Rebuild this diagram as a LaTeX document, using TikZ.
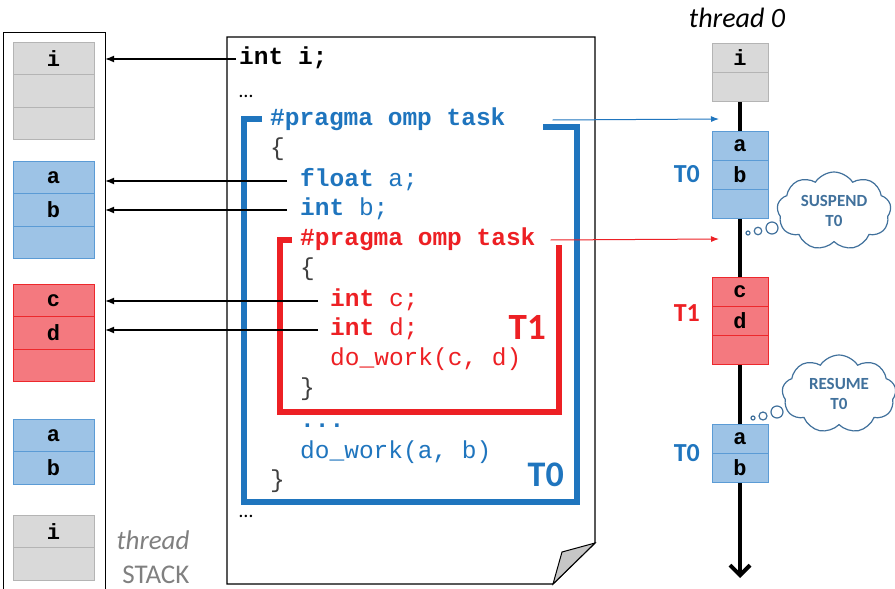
\documentclass[tikz,border=0pt]{standalone}
\usepackage{fontspec}
\setmainfont{Carlito}
\setmonofont{Liberation Mono}
\usetikzlibrary{positioning,arrows.meta,shapes.symbols,backgrounds}
\definecolor{tblue}{RGB}{31,117,190}
\definecolor{tred}{RGB}{237,32,36}
\definecolor{bfill}{RGB}{157,195,230}
\definecolor{bline}{RGB}{91,155,213}
\definecolor{rfill}{RGB}{244,121,127}
\definecolor{rline}{RGB}{237,40,44}
\definecolor{gfill}{RGB}{217,217,217}
\definecolor{gline}{RGB}{180,180,180}
\definecolor{cloudc}{RGB}{65,113,156}
\definecolor{bracec}{RGB}{64,64,64}

\begin{document}
\begin{tikzpicture}[x=1pt, y=-1pt,
    node distance=0pt,
    code/.style={anchor=west, inner sep=0pt, text height=15pt, text depth=5pt, font=\fontsize{24.5}{30}\selectfont\ttfamily},
    cell/.style={draw, line width=1pt, outer sep=0pt, inner sep=0pt, minimum width=81pt, minimum height=32.5pt, font=\fontsize{22}{22}\selectfont\ttfamily\bfseries},
    gcell/.style={cell, fill=gfill, draw=gline},
    bcell/.style={cell, fill=bfill, draw=bline},
    rcell/.style={cell, fill=rfill, draw=rline},
    tcell/.style={minimum width=56pt, minimum height=29pt},
    tlab/.style={inner sep=0pt, font=\fontsize{26}{26}\selectfont\bfseries},
    ptr/.style={draw, line width=1.2pt, -{Latex[length=9pt,width=7pt]}},
    thought/.style={cloud, cloud puffs=9, cloud puff arc=115, cloud ignores aspect, minimum width=114pt, minimum height=78pt, inner sep=0pt, draw=cloudc, line width=1.2pt, fill=white, text=cloudc, align=center, font=\fontsize{17}{20}\selectfont\bfseries},
    bub/.style={circle, draw=cloudc, line width=1.2pt, fill=white, inner sep=0pt}
]
\useasboundingbox (0,0) rectangle (895,589);

% stack column
\node[minimum width=101pt, minimum height=556pt, inner sep=0pt] (stack) at (54.5,311) {};
\draw[line width=1.2pt] (stack.south west) -- (stack.north west) -- (stack.north east) -- (stack.south east);

\node[gcell] (s-i) at (53.5,58.25) {i};
\node[gcell, below=of s-i] (s-g2) {};
\node[gcell, below=of s-g2] (s-g3) {};
\node[bcell] (s-a) at (53.5,177.25) {a};
\node[bcell, below=of s-a] (s-b) {b};
\node[bcell, below=of s-b] (s-b3) {};
\node[rcell] (s-c) at (53.5,300.25) {c};
\node[rcell, below=of s-c] (s-d) {d};
\node[rcell, below=of s-d] (s-r3) {};
\node[bcell] (s-a2) at (53.5,435.25) {a};
\node[bcell, below=of s-a2] (s-b2) {b};
\node[gcell] (s-i2) at (53.5,531.25) {i};
\node[gcell, below=of s-i2] (s-g4) {};
\node[align=right, text=gray, inner sep=0pt, font=\fontsize{27}{34}\selectfont] (stk-lab) at (153,557) {\textit{thread}\\STACK};

% code page
\draw[line width=1.2pt, fill=white] (227,37) -- (595,37) -- (595,543) -- (553,584) -- (227,584) -- cycle;
\draw[line width=1pt, fill=gray!45] (553,584) -- (562,552) -- (595,543) -- cycle;

\draw[tblue, line width=6pt] (262,119) -- (244,119) -- (244,502) -- (577,502) -- (577,127) -- (543,127);
\draw[tred, line width=6pt] (292,240) -- (280,240) -- (280,412) -- (559,412) -- (559,245);

\node[code] (c-i) at (239,59) {\textbf{int i;}};
\node[code, font=\fontsize{20}{20}\selectfont\rmfamily] (c-dots1) at (239,92) {…};
\node[code, text=tblue] (c-pb) at (270,120) {\textbf{\#pragma omp task}};
\node[code, text=bracec] (c-ob) at (270,150) {\{};
\node[code, text=tblue] (c-a) at (300,181) {\textbf{float} a;};
\node[code, text=tblue] (c-b) at (300,210) {\textbf{int} b;};
\node[code, text=tred] (c-pr) at (300,240) {\textbf{\#pragma omp task}};
\node[code, text=bracec] (c-or) at (300,270) {\{};
\node[code, text=tred] (c-c) at (330,301) {\textbf{int} c;};
\node[code, text=tred] (c-d) at (330,330) {\textbf{int} d;};
\node[code, text=tred] (c-wcd) at (330,360) {do\_work(c, d)};
\node[code, text=bracec] (c-cr) at (300,390) {\}};
\node[code, text=tblue] (c-dots2) at (300,422) {\textbf{...}};
\node[code, text=tblue] (c-wab) at (300,453) {do\_work(a, b)};
\node[code, text=bracec] (c-cb) at (270,482) {\}};
\node[code, font=\fontsize{20}{20}\selectfont\rmfamily] (c-dots3) at (239,512) {…};

\node[inner sep=0pt, anchor=east, text=tred, font=\fontsize{37}{37}\selectfont\bfseries] (lab-t1) at (546,327) {T1};
\node[inner sep=0pt, anchor=east, text=tblue, font=\fontsize{36}{36}\selectfont\bfseries] (lab-t0) at (564,475) {T0};

% thread 0 timeline
\node[font=\fontsize{28}{28}\selectfont\itshape] (thr) at (737,18) {thread 0};
\node[gcell, tcell] (t-i) at (740,57.5) {i};
\node[gcell, tcell, below=of t-i] (t-g2) {};
\node[bcell, tcell] (t-a) at (740,145.5) {a};
\node[bcell, tcell, below=of t-a] (t-b) {b};
\node[bcell, tcell, below=of t-b] (t-b3) {};
\node[rcell, tcell] (t-c) at (740,291.5) {c};
\node[rcell, tcell, below=of t-c] (t-d) {d};
\node[rcell, tcell, below=of t-d] (t-r3) {};
\node[bcell, tcell] (t-a2) at (740,438.5) {a};
\node[bcell, tcell, below=of t-a2] (t-b2) {b};
\coordinate (t-end) at (740,578);
\begin{scope}[on background layer]
\draw[line width=4pt, -{Straight Barb[length=10pt,width=20pt]}] (t-i.north) -- (t-end);
\end{scope}

\node[tlab, text=tblue, left=12pt of t-b] (lab-t0a) {T0};
\node[tlab, text=tred, anchor=east] (lab-t1a) at (700,313) {T1};
\node[tlab, text=tblue, left=12pt of t-a2.south west] (lab-t0b) {T0};

% clouds
\node[thought] (cl-s) at (834,211) {SUSPEND\\T0};
\node[bub, minimum size=4pt] (cl-s1) at (748,233) {};
\node[bub, minimum size=7.5pt] (cl-s2) at (758,231) {};
\node[bub, minimum size=12pt] (cl-s3) at (772,228) {};
\node[thought] (cl-r) at (839,394) {RESUME\\T0};
\node[bub, minimum size=4pt] (cl-r1) at (753,418) {};
\node[bub, minimum size=8pt] (cl-r2) at (763,416) {};
\node[bub, minimum size=12pt] (cl-r3) at (777,412) {};

% pointers
\draw[ptr] ([xshift=-3pt]c-i.west) -- (c-i.west -| stack.east);
\draw[ptr] ([xshift=-13pt]c-a.west) -- (c-a.west -| stack.east);
\draw[ptr] ([xshift=-13pt]c-b.west) -- (c-b.west -| stack.east);
\draw[ptr] ([xshift=-12pt]c-c.west) -- (c-c.west -| stack.east);
\draw[ptr] ([xshift=-12pt]c-d.west) -- (c-d.west -| stack.east);

\coordinate (in-t0) at (719,119);
\coordinate (in-t1) at (719,239);
\draw[tblue, line width=1pt, -{Latex[length=8pt,width=6pt]}] ([xshift=47pt]c-pb.east) -- (in-t0);
\draw[tred, line width=1pt, -{Latex[length=8pt,width=6pt]}] ([xshift=15pt]c-pr.east) -- (in-t1);
\end{tikzpicture}
\end{document}
